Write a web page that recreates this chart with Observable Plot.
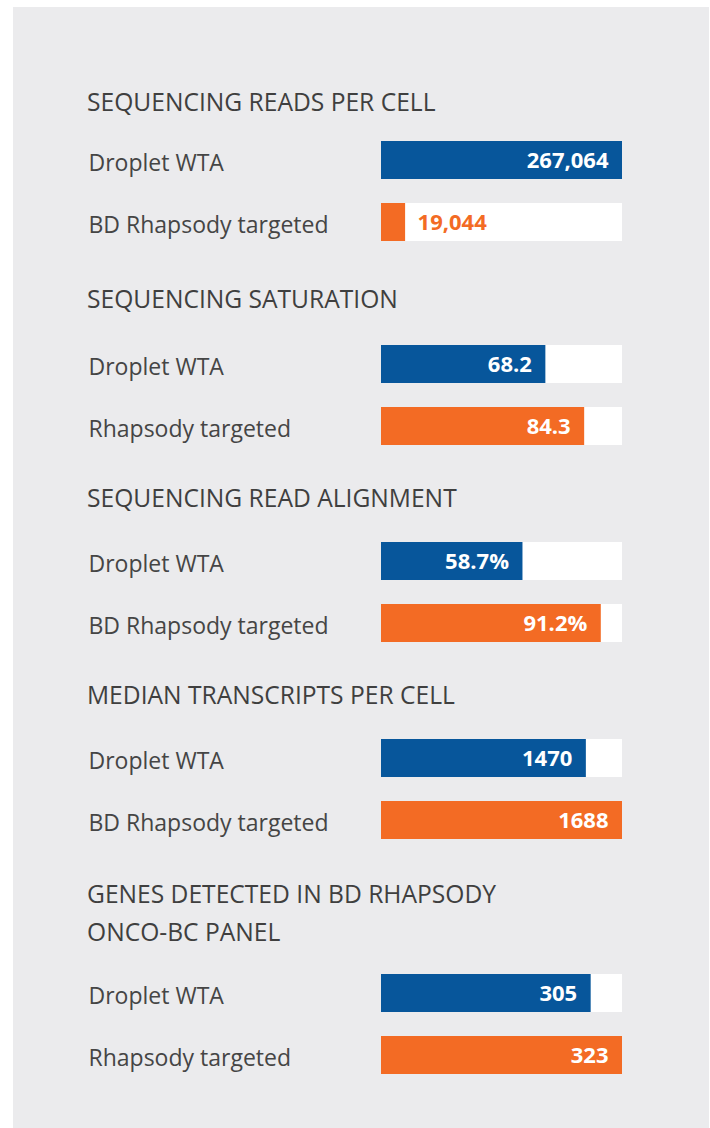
<!DOCTYPE html>
<html><head><meta charset="utf-8">
<script src="https://cdn.jsdelivr.net/npm/d3@7"></script>
<script src="https://cdn.jsdelivr.net/npm/@observablehq/plot@0.6"></script>
<style>
html,body{margin:0;padding:0;background:#fff;}
body{font-family:"Open Sans",sans-serif;}
#panel{position:absolute;left:13px;top:7px;width:696px;height:1121px;background:#ebebed;padding-top:76px;box-sizing:border-box;}
.title{font-size:24.6px;line-height:38px;color:#3f3f3f;padding-left:74px;margin-bottom:11px;margin-top:24px;white-space:nowrap;}
.title.s0{margin-top:0;margin-bottom:8px;}
.title.s1{margin-top:27px;margin-bottom:15px;}
.title.s2,.title.s3{margin-top:22px;margin-bottom:13px;}
svg{display:block;}
</style></head><body><div id="panel"></div>
<script>
// ---- data ----
const sectionTitles = [
  ["SEQUENCING READS PER CELL"],
  ["SEQUENCING SATURATION"],
  ["SEQUENCING READ ALIGNMENT"],
  ["MEDIAN TRANSCRIPTS PER CELL"],
  ["GENES DETECTED IN BD RHAPSODY", "ONCO-BC PANEL"]
];
const labelsWTA = ["Droplet WTA", "Droplet WTA", "Droplet WTA", "Droplet WTA", "Droplet WTA"];
const labelsTargeted = ["BD Rhapsody targeted", "Rhapsody targeted", "BD Rhapsody targeted", "BD Rhapsody targeted", "Rhapsody targeted"];
const valueTextWTA = ["267,064", "68.2", "58.7%", "1470", "305"];
const valueTextTargeted = ["19,044", "84.3", "91.2%", "1688", "323"];
// bar lengths as drawn, in percent of the white track
const barLengthWTA = [100, 68.2, 58.7, 85, 87];
const barLengthTargeted = [10, 84.3, 91.2, 100, 100];
const trackFull = 100;
const seriesKeys = ["WTA", "Targeted"];
const seriesColors = ["#07569b", "#f36b24"];

const panel = document.getElementById("panel");
sectionTitles.forEach((lines, i) => {
  const t = document.createElement("div");
  t.className = "title s" + i;
  t.innerHTML = lines.join("<br>");
  panel.appendChild(t);

  const rows = [
    {key: seriesKeys[0], label: labelsWTA[i], value: valueTextWTA[i], len: barLengthWTA[i], track: trackFull},
    {key: seriesKeys[1], label: labelsTargeted[i], value: valueTextTargeted[i], len: barLengthTargeted[i], track: trackFull}
  ];
  const inside = rows.filter(d => d.len >= 20);
  const outside = rows.filter(d => d.len < 20);

  const chart = Plot.plot({
    width: 696, height: 124,
    marginLeft: 368, marginRight: 87, marginTop: 0, marginBottom: 0,
    x: {domain: [0, trackFull], axis: null},
    y: {domain: seriesKeys, axis: null, padding: 0},
    color: {domain: seriesKeys, range: seriesColors},
    style: {background: "transparent", fontFamily: "'Open Sans', sans-serif", overflow: "visible"},
    marks: [
      Plot.barX(rows, {x: "track", y: "key", fill: "white", insetTop: 12, insetBottom: 12}),
      Plot.barX(rows, {x: "len", y: "key", fill: "key", insetTop: 12, insetBottom: 12}),
      Plot.text(rows, {x: 0, y: "key", text: "label", textAnchor: "start", dx: -293, dy: 3, fontSize: 23, fill: "#454545"}),
      Plot.text(inside, {x: "len", y: "key", text: "value", textAnchor: "end", dx: -14, fontSize: 22, fontWeight: "bold", fill: "white"}),
      Plot.text(outside, {x: "len", y: "key", text: "value", textAnchor: "start", dx: 12, fontSize: 22, fontWeight: "bold", fill: "key"})
    ]
  });
  panel.appendChild(chart);
});
</script>
</body></html>
